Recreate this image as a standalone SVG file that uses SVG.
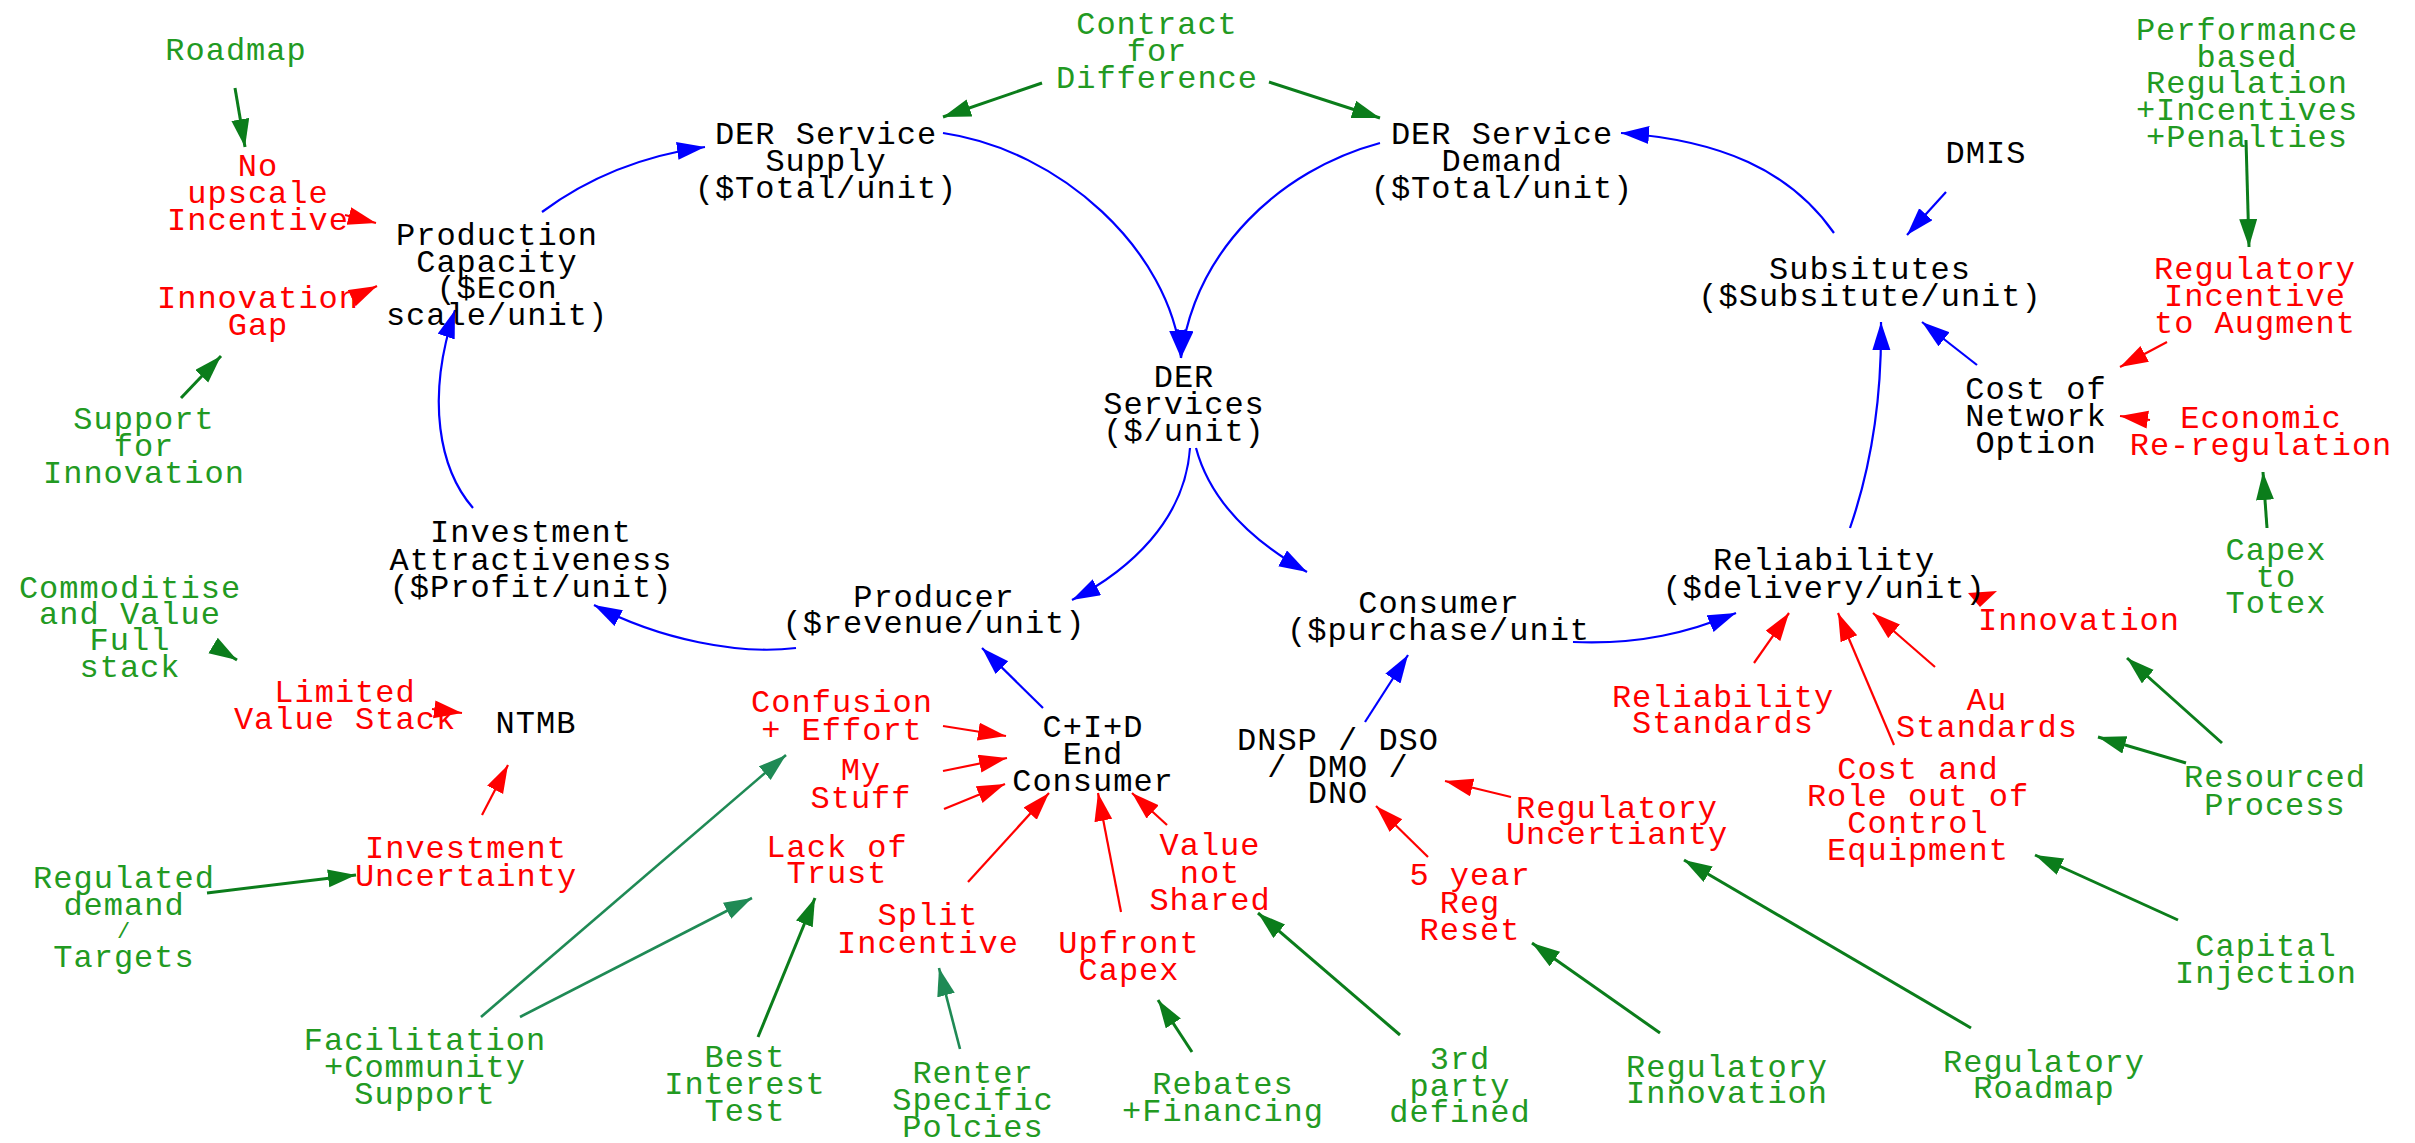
<svg xmlns="http://www.w3.org/2000/svg" width="2415" height="1143" viewBox="0 0 2415 1143">
<style>
text { font-family: "Liberation Mono", "DejaVu Sans Mono", monospace; font-size: 32px; letter-spacing: 1px; text-anchor: middle; }
.k { fill: #000000; }
.r { fill: #ff0000; }
.g { fill: #229a22; }
.cb { fill: none; stroke: #0000ff; stroke-width: 2.2; marker-end: url(#ab); }
.cr { fill: none; stroke: #ff0000; stroke-width: 2.2; marker-end: url(#ar); }
.cg { fill: none; stroke: #0b7d1b; stroke-width: 3; marker-end: url(#ag); }
.ct { fill: none; stroke: #1f8a55; stroke-width: 2.6; marker-end: url(#at); }
</style>
<defs>
<marker id="ab" markerUnits="userSpaceOnUse" markerWidth="30" markerHeight="20" refX="28" refY="9" orient="auto"><path d="M0,0 L28,9 L0,18 z" fill="#0000ff"/></marker>
<marker id="ar" markerUnits="userSpaceOnUse" markerWidth="30" markerHeight="20" refX="28" refY="9" orient="auto"><path d="M0,0 L28,9 L0,18 z" fill="#ff0000"/></marker>
<marker id="ag" markerUnits="userSpaceOnUse" markerWidth="30" markerHeight="20" refX="28" refY="9" orient="auto"><path d="M0,0 L28,9 L0,18 z" fill="#0b7d1b"/></marker>
<marker id="at" markerUnits="userSpaceOnUse" markerWidth="30" markerHeight="20" refX="28" refY="9" orient="auto"><path d="M0,0 L28,9 L0,18 z" fill="#1f8a55"/></marker>
</defs>
<rect width="2415" height="1143" fill="#ffffff"/>

<g id="connectors">
<!-- blue -->
<path class="cb" d="M542,212 C585,180 640,156 705,147"/>
<path class="cb" d="M473,508 C440,470 425,400 455,310"/>
<path class="cb" d="M796,648 C740,655 660,640 594,605"/>
<path class="cb" d="M1190,448 C1185,520 1130,570 1072,600"/>
<path class="cb" d="M1196,448 C1210,500 1250,540 1307,572"/>
<path class="cb" d="M1365,722 L1408,655"/>
<path class="cb" d="M1043,708 L982,648"/>
<path class="cb" d="M1573,642 C1640,645 1690,632 1736,613"/>
<path class="cb" d="M1850,528 C1870,470 1882,400 1881,322"/>
<path class="cb" d="M1977,365 L1922,322"/>
<path class="cb" d="M1946,192 L1907,235"/>
<path class="cb" d="M1834,233 C1790,170 1720,140 1621,133"/>
<path class="cb" d="M943,133 C1060,150 1170,250 1181,358"/>
<path class="cb" d="M1380,143 C1280,170 1195,250 1181,358"/>
<!-- red -->
<path class="cr" d="M345,215 L376,223"/>
<path class="cr" d="M352,298 L377,286"/>
<path class="cr" d="M432,709 L462,713"/>
<path class="cr" d="M482,815 L508,765"/>
<path class="cr" d="M943,726 L1006,736"/>
<path class="cr" d="M943,771 L1007,758"/>
<path class="cr" d="M944,809 L1005,784"/>
<path class="cr" d="M968,882 L1049,793"/>
<path class="cr" d="M1121,912 L1098,793"/>
<path class="cr" d="M1167,825 L1132,793"/>
<path class="cr" d="M1511,797 L1445,781"/>
<path class="cr" d="M1428,857 L1376,806"/>
<path class="cr" d="M1754,663 L1789,613"/>
<path class="cr" d="M1894,745 L1838,613"/>
<path class="cr" d="M1935,667 L1873,613"/>
<path class="cr" d="M2167,342 L2120,367"/>
<path class="cr" d="M2150,420 L2120,416"/>
<polygon points="1968,593 1997,591 1980,607" fill="#ff0000"/>
<!-- green -->
<path class="cg" d="M235,88 L245,147"/>
<path class="cg" d="M181,398 L221,356"/>
<path class="cg" d="M1042,83 L943,117"/>
<path class="cg" d="M1269,82 L1380,118"/>
<path class="cg" d="M2246,140 L2249,247"/>
<path class="cg" d="M2267,528 L2263,472"/>
<path class="cg" d="M2222,743 L2127,658"/>
<path class="cg" d="M2186,763 L2098,737"/>
<path class="cg" d="M2178,920 L2035,855"/>
<path class="cg" d="M1971,1028 L1684,860"/>
<path class="cg" d="M1660,1033 L1532,943"/>
<path class="cg" d="M1400,1035 L1258,913"/>
<path class="cg" d="M1192,1052 L1158,1000"/>
<path class="ct" d="M960,1049 L939,968"/>
<path class="cg" d="M758,1037 L815,898"/>
<path class="ct" d="M520,1017 L752,898"/>
<path class="ct" d="M481,1017 L786,755"/>
<path class="cg" d="M207,893 L356,875"/>
<path class="cg" d="M214,646 L237,660"/>
</g>

<g id="n1"><text class="g" x="236" y="60">Roadmap</text></g>
<g id="n2"><text class="r"><tspan x="258" y="176">No</tspan><tspan x="258" y="203">upscale</tspan><tspan x="258" y="230">Incentive</tspan></text></g>
<g id="n3"><text class="k"><tspan x="497" y="245">Production</tspan><tspan x="497" y="272">Capacity</tspan><tspan x="497" y="298">($Econ</tspan><tspan x="497" y="325">scale/unit)</tspan></text></g>
<g id="n4"><text class="r"><tspan x="258" y="308">Innovation</tspan><tspan x="258" y="335">Gap</tspan></text></g>
<g id="n5"><text class="g"><tspan x="144" y="429">Support</tspan><tspan x="144" y="456">for</tspan><tspan x="144" y="483">Innovation</tspan></text></g>
<g id="n6"><text class="k"><tspan x="826" y="144">DER Service</tspan><tspan x="826" y="171">Supply</tspan><tspan x="826" y="198">($Total/unit)</tspan></text></g>
<g id="n7"><text class="g"><tspan x="1157" y="34">Contract</tspan><tspan x="1157" y="61">for</tspan><tspan x="1157" y="88">Difference</tspan></text></g>
<g id="n8"><text class="k"><tspan x="1502" y="144">DER Service</tspan><tspan x="1502" y="171">Demand</tspan><tspan x="1502" y="198">($Total/unit)</tspan></text></g>
<g id="n9"><text class="k" x="1986" y="163">DMIS</text></g>
<g id="n10"><text class="g"><tspan x="2247" y="40">Performance</tspan><tspan x="2247" y="67">based</tspan><tspan x="2247" y="93">Regulation</tspan><tspan x="2247" y="120">+Incentives</tspan><tspan x="2247" y="147">+Penalties</tspan></text></g>
<g id="n11"><text class="k"><tspan x="1870" y="279">Subsitutes</tspan><tspan x="1870" y="306">($Subsitute/unit)</tspan></text></g>
<g id="n12"><text class="r"><tspan x="2255" y="279">Regulatory</tspan><tspan x="2255" y="306">Incentive</tspan><tspan x="2255" y="333">to Augment</tspan></text></g>
<g id="n13"><text class="k"><tspan x="2036" y="399">Cost of</tspan><tspan x="2036" y="426">Network</tspan><tspan x="2036" y="453">Option</tspan></text></g>
<g id="n14"><text class="r"><tspan x="2261" y="428">Economic</tspan><tspan x="2261" y="455">Re-regulation</tspan></text></g>
<g id="n15"><text class="k"><tspan x="1184" y="387">DER</tspan><tspan x="1184" y="414">Services</tspan><tspan x="1184" y="441">($/unit)</tspan></text></g>
<g id="n16"><text class="g"><tspan x="2276" y="560">Capex</tspan><tspan x="2276" y="587">to</tspan><tspan x="2276" y="613">Totex</tspan></text></g>
<g id="n17"><text class="k"><tspan x="531" y="542">Investment</tspan><tspan x="531" y="570">Attractiveness</tspan><tspan x="531" y="597">($Profit/unit)</tspan></text></g>
<g id="n18"><text class="g"><tspan x="130" y="598">Commoditise</tspan><tspan x="130" y="624">and Value</tspan><tspan x="130" y="650">Full</tspan><tspan x="130" y="677">stack</tspan></text></g>
<g id="n19"><text class="k"><tspan x="934" y="607">Producer</tspan><tspan x="934" y="633">($revenue/unit)</tspan></text></g>
<g id="n20"><text class="k" x="1439" y="613">Consumer</text><text class="k" x="1287" y="640" style="text-anchor:start">($purchase/unit</text></g>
<g id="n21"><text class="k"><tspan x="1824" y="570">Reliability</tspan><tspan x="1824" y="598">($delivery/unit)</tspan></text></g>
<g id="n22"><text class="r" x="2079" y="630">Innovation</text></g>
<g id="n23"><text class="r"><tspan x="345" y="702">Limited</tspan><tspan x="345" y="729">Value Stack</tspan></text></g>
<g id="n24"><text class="k" x="536" y="733">NTMB</text></g>
<g id="n25"><text class="r"><tspan x="842" y="712">Confusion</tspan><tspan x="842" y="740">+ Effort</tspan></text></g>
<g id="n26"><text class="k"><tspan x="1093" y="737">C+I+D</tspan><tspan x="1093" y="764">End</tspan><tspan x="1093" y="791">Consumer</tspan></text></g>
<g id="n27"><text class="r"><tspan x="861" y="780">My</tspan><tspan x="861" y="808">Stuff</tspan></text></g>
<g id="n28"><text class="k"><tspan x="1338" y="750">DNSP / DSO</tspan><tspan x="1338" y="777">/ DMO /</tspan><tspan x="1338" y="803">DNO</tspan></text></g>
<g id="n29"><text class="r"><tspan x="1723" y="707">Reliability</tspan><tspan x="1723" y="733">Standards</tspan></text></g>
<g id="n30"><text class="r"><tspan x="1987" y="710">Au</tspan><tspan x="1987" y="737">Standards</tspan></text></g>
<g id="n31"><text class="r"><tspan x="1918" y="779">Cost and</tspan><tspan x="1918" y="806">Role out of</tspan><tspan x="1918" y="833">Control</tspan><tspan x="1918" y="860">Equipment</tspan></text></g>
<g id="n32"><text class="g"><tspan x="2275" y="787">Resourced</tspan><tspan x="2275" y="815">Process</tspan></text></g>
<g id="n33"><text class="r"><tspan x="1617" y="818">Regulatory</tspan><tspan x="1617" y="844">Uncertianty</tspan></text></g>
<g id="n34"><text class="r"><tspan x="837" y="857">Lack of</tspan><tspan x="837" y="883">Trust</tspan></text></g>
<g id="n35"><text class="r"><tspan x="1210" y="855">Value</tspan><tspan x="1210" y="883">not</tspan><tspan x="1210" y="910">Shared</tspan></text></g>
<g id="n36"><text class="r"><tspan x="466" y="858">Investment</tspan><tspan x="466" y="886">Uncertainty</tspan></text></g>
<g id="n37"><text class="r"><tspan x="1470" y="885">5 year</tspan><tspan x="1470" y="913">Reg</tspan><tspan x="1470" y="940">Reset</tspan></text></g>
<g id="n38"><text class="g"><tspan x="124" y="888">Regulated</tspan><tspan x="124" y="915">demand</tspan><tspan x="124" y="938" style="font-size:22px">/</tspan><tspan x="124" y="967">Targets</tspan></text></g>
<g id="n39"><text class="r"><tspan x="928" y="925">Split</tspan><tspan x="928" y="953">Incentive</tspan></text></g>
<g id="n40"><text class="r"><tspan x="1129" y="953">Upfront</tspan><tspan x="1129" y="980">Capex</tspan></text></g>
<g id="n41"><text class="g"><tspan x="2266" y="956">Capital</tspan><tspan x="2266" y="983">Injection</tspan></text></g>
<g id="n42"><text class="g"><tspan x="425" y="1050">Facilitation</tspan><tspan x="425" y="1077">+Community</tspan><tspan x="425" y="1104">Support</tspan></text></g>
<g id="n43"><text class="g"><tspan x="745" y="1067">Best</tspan><tspan x="745" y="1094">Interest</tspan><tspan x="745" y="1121">Test</tspan></text></g>
<g id="n44"><text class="g"><tspan x="973" y="1083">Renter</tspan><tspan x="973" y="1110">Specific</tspan><tspan x="973" y="1137">Polcies</tspan></text></g>
<g id="n45"><text class="g"><tspan x="1223" y="1094">Rebates</tspan><tspan x="1223" y="1121">+Financing</tspan></text></g>
<g id="n46"><text class="g"><tspan x="1460" y="1069">3rd</tspan><tspan x="1460" y="1096">party</tspan><tspan x="1460" y="1122">defined</tspan></text></g>
<g id="n47"><text class="g"><tspan x="1727" y="1077">Regulatory</tspan><tspan x="1727" y="1103">Innovation</tspan></text></g>
<g id="n48"><text class="g"><tspan x="2044" y="1072">Regulatory</tspan><tspan x="2044" y="1098">Roadmap</tspan></text></g>
</svg>
